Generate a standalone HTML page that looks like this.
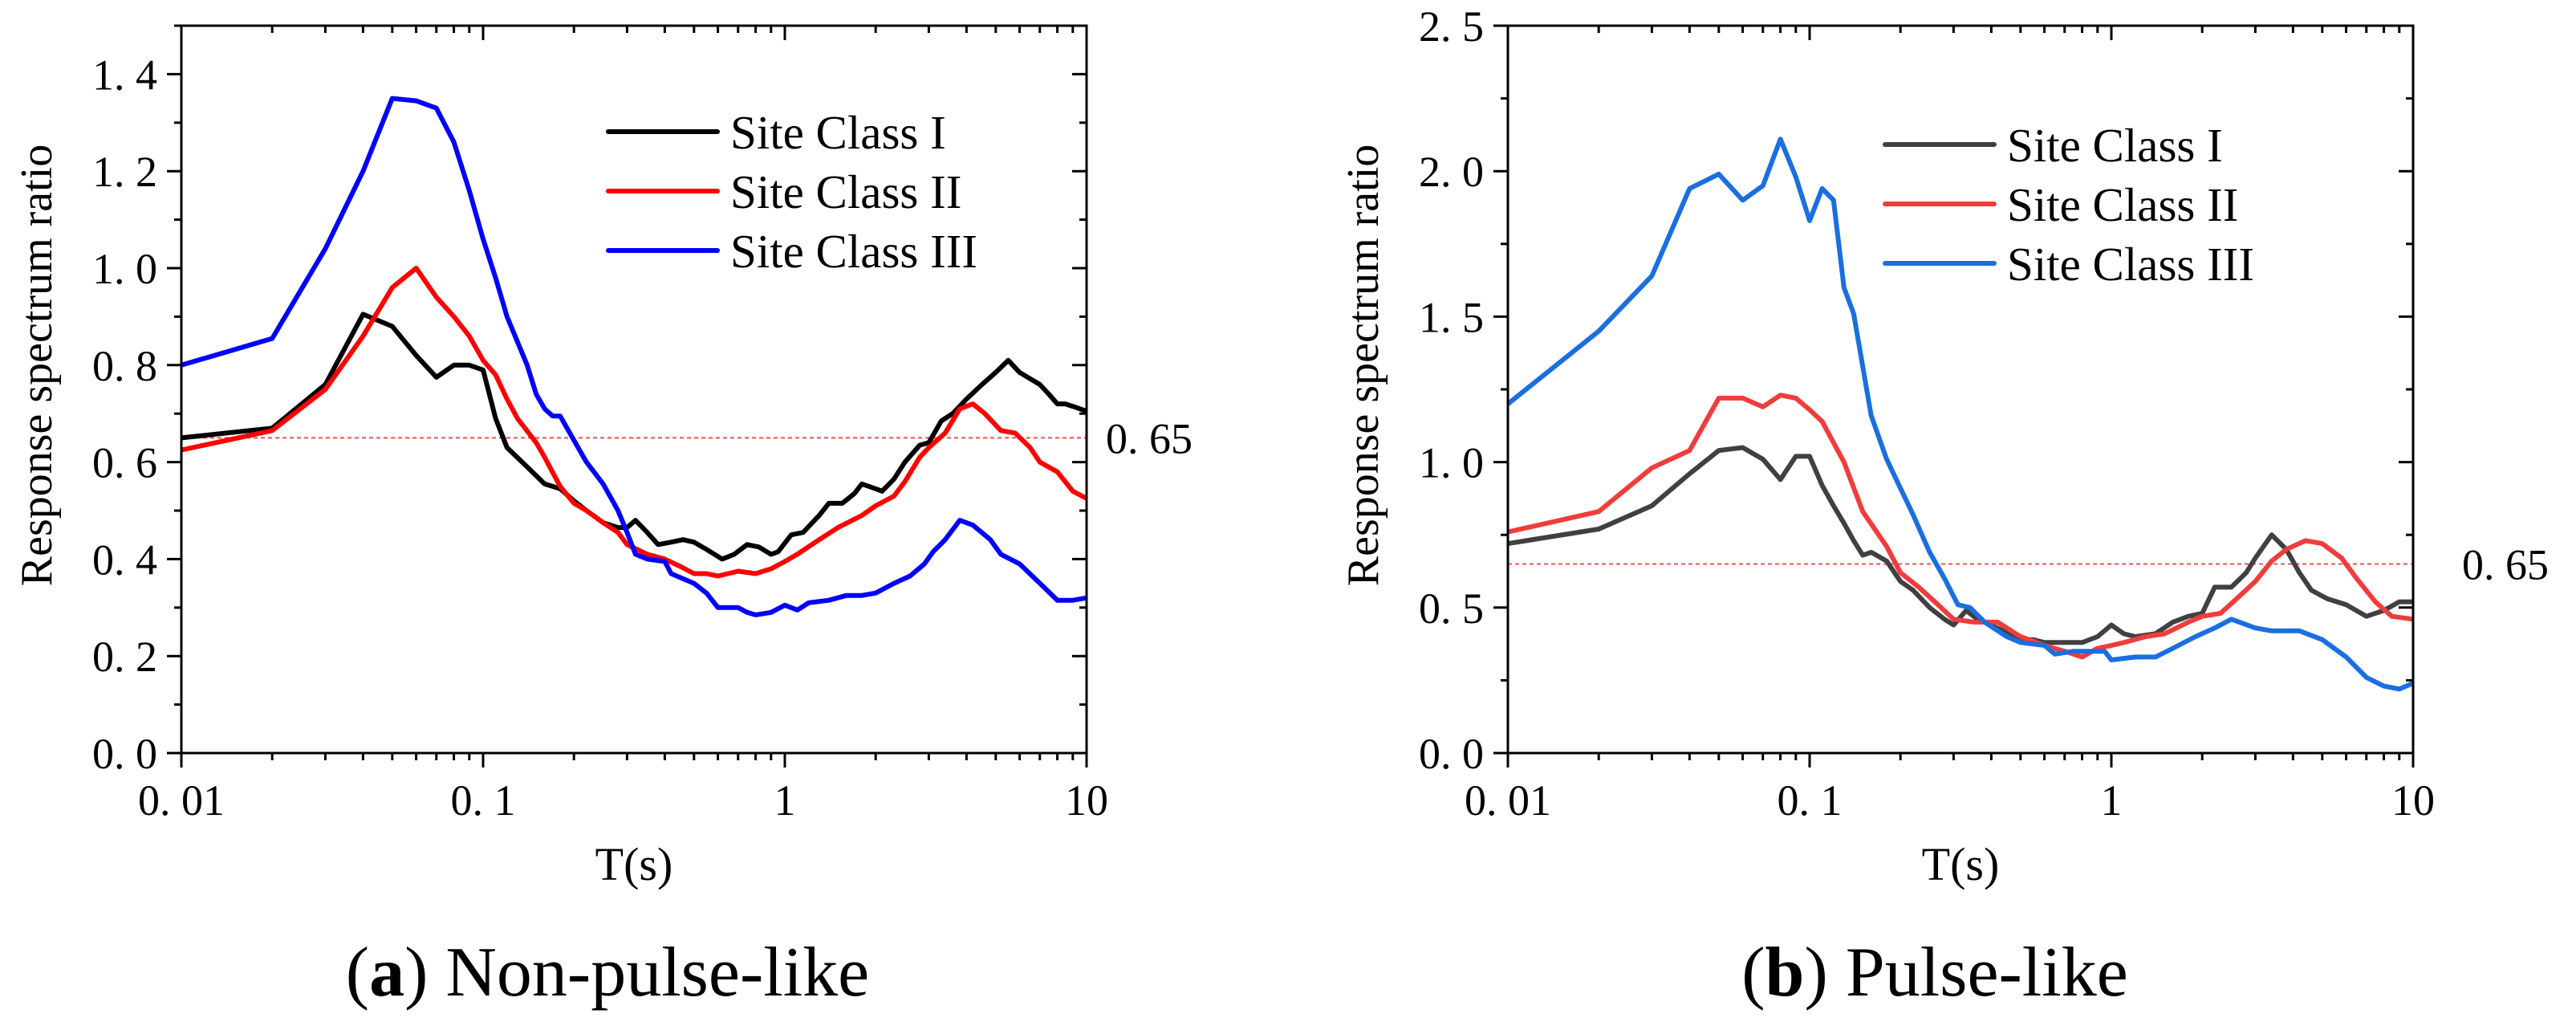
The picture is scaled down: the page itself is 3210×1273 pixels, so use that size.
<!DOCTYPE html>
<html><head><meta charset="utf-8"><style>
html,body{margin:0;padding:0;background:#fff;}
svg{display:block;}
text{font-family:"Liberation Serif",serif;fill:#000;}
</style></head>
<body>
<svg id="fig" width="3210" height="1273" viewBox="0 0 3210 1273" xmlns="http://www.w3.org/2000/svg"></svg>
<script>
// ---- Data: panel (a) Non-pulse-like ----
const aT1 = [0.01,0.02,0.03,0.04,0.05,0.06,0.07,0.08,0.09,0.1,0.11,0.12,0.14,0.16,0.18,0.2,0.22,0.25,0.28,0.3,0.32,0.35,0.38,0.42,0.46,0.5,0.55,0.62,0.68,0.75,0.82,0.9,0.95,1.05,1.15,1.3,1.4,1.55,1.7,1.8,2.0,2.1,2.3,2.5,2.8,3.0,3.3,3.6,4.0,4.5,5.0,5.5,6.0,7.0,7.5,8.0,8.5,9.0,10];
const aV1 = [0.65,0.67,0.76,0.905,0.88,0.82,0.775,0.80,0.80,0.79,0.69,0.63,0.59,0.555,0.545,0.52,0.50,0.475,0.465,0.465,0.48,0.455,0.43,0.435,0.44,0.435,0.42,0.40,0.41,0.43,0.425,0.41,0.415,0.45,0.455,0.49,0.515,0.515,0.535,0.555,0.545,0.54,0.565,0.60,0.635,0.64,0.685,0.70,0.73,0.76,0.785,0.81,0.785,0.76,0.74,0.72,0.72,0.715,0.705];
const aT2 = [0.01,0.02,0.03,0.04,0.05,0.06,0.07,0.08,0.09,0.1,0.11,0.12,0.13,0.15,0.16,0.18,0.2,0.22,0.25,0.28,0.3,0.35,0.4,0.45,0.5,0.55,0.6,0.7,0.8,0.9,1.0,1.1,1.3,1.5,1.8,2.0,2.3,2.5,2.8,3.0,3.4,3.8,4.2,4.6,5.2,5.8,6.5,7.0,8.0,9.0,10];
const aV2 = [0.625,0.665,0.75,0.86,0.96,1.0,0.94,0.90,0.86,0.81,0.78,0.73,0.69,0.64,0.61,0.55,0.515,0.50,0.475,0.455,0.43,0.41,0.40,0.385,0.37,0.37,0.365,0.375,0.37,0.38,0.395,0.41,0.44,0.465,0.49,0.51,0.53,0.56,0.61,0.63,0.66,0.71,0.72,0.70,0.665,0.66,0.63,0.60,0.58,0.54,0.525];
const aT3 = [0.01,0.02,0.03,0.04,0.05,0.06,0.07,0.08,0.09,0.1,0.11,0.12,0.14,0.15,0.16,0.17,0.18,0.2,0.22,0.25,0.28,0.3,0.32,0.35,0.4,0.42,0.5,0.55,0.6,0.7,0.75,0.8,0.9,1.0,1.1,1.2,1.4,1.6,1.8,2.0,2.3,2.6,2.9,3.1,3.4,3.8,4.2,4.8,5.2,6.0,7.0,8.0,9.0,10];
const aV3 = [0.80,0.855,1.04,1.20,1.35,1.345,1.33,1.26,1.16,1.06,0.98,0.90,0.80,0.74,0.71,0.695,0.695,0.645,0.60,0.555,0.50,0.455,0.41,0.40,0.395,0.37,0.35,0.33,0.30,0.30,0.29,0.285,0.29,0.305,0.295,0.31,0.315,0.325,0.325,0.33,0.35,0.365,0.39,0.415,0.44,0.48,0.47,0.44,0.41,0.39,0.35,0.315,0.315,0.32];
// ---- Data: panel (b) Pulse-like ----
const bT1 = [0.01,0.02,0.03,0.04,0.05,0.06,0.07,0.08,0.09,0.1,0.11,0.12,0.13,0.14,0.15,0.16,0.18,0.2,0.22,0.25,0.28,0.3,0.33,0.36,0.4,0.5,0.55,0.6,0.7,0.8,0.9,1.0,1.1,1.2,1.4,1.6,1.8,2.0,2.2,2.5,2.8,3.0,3.4,3.8,4.2,4.6,5.2,6.0,7.0,8.0,9.0,10];
const bV1 = [0.72,0.77,0.85,0.96,1.04,1.05,1.01,0.94,1.02,1.02,0.92,0.85,0.79,0.73,0.68,0.69,0.66,0.59,0.56,0.50,0.46,0.44,0.49,0.46,0.44,0.39,0.39,0.38,0.38,0.38,0.40,0.44,0.41,0.40,0.41,0.45,0.47,0.48,0.57,0.57,0.62,0.67,0.75,0.70,0.62,0.56,0.53,0.51,0.47,0.49,0.52,0.52];
const bT2 = [0.01,0.02,0.03,0.04,0.05,0.06,0.07,0.08,0.09,0.1,0.11,0.13,0.15,0.18,0.2,0.23,0.26,0.3,0.35,0.42,0.5,0.6,0.7,0.8,0.9,1.0,1.1,1.3,1.5,1.8,2.0,2.3,2.6,3.0,3.4,3.8,4.4,5.0,5.8,6.5,7.5,8.5,10];
const bV2 = [0.76,0.83,0.98,1.04,1.22,1.22,1.19,1.23,1.22,1.18,1.14,1.0,0.83,0.71,0.62,0.57,0.52,0.46,0.45,0.45,0.40,0.37,0.35,0.33,0.36,0.37,0.38,0.40,0.41,0.45,0.47,0.48,0.53,0.59,0.66,0.70,0.73,0.72,0.67,0.60,0.52,0.47,0.46];
const bT3 = [0.01,0.02,0.03,0.04,0.05,0.06,0.07,0.08,0.09,0.1,0.11,0.12,0.13,0.14,0.16,0.18,0.2,0.22,0.25,0.28,0.31,0.34,0.38,0.45,0.5,0.6,0.65,0.75,0.85,0.95,1.0,1.2,1.4,1.6,1.9,2.2,2.5,3.0,3.4,3.8,4.2,5.0,6.0,7.0,8.0,9.0,10];
const bV3 = [1.20,1.45,1.64,1.94,1.99,1.90,1.95,2.11,1.98,1.83,1.94,1.90,1.60,1.51,1.16,1.01,0.91,0.82,0.69,0.60,0.51,0.50,0.45,0.40,0.38,0.37,0.34,0.35,0.35,0.35,0.32,0.33,0.33,0.36,0.40,0.43,0.46,0.43,0.42,0.42,0.42,0.39,0.33,0.26,0.23,0.22,0.24];
const seriesNames = ["Site Class I","Site Class II","Site Class III"];
const xTickVals = [0.01,0.1,1,10];
const xTickLabels = ["0. 01","0. 1","1","10"];
const aYTicks = [0,0.2,0.4,0.6,0.8,1.0,1.2,1.4];
const aYLabels = ["0. 0","0. 2","0. 4","0. 6","0. 8","1. 0","1. 2","1. 4"];
const bYTicks = [0,0.5,1.0,1.5,2.0,2.5];
const bYLabels = ["0. 0","0. 5","1. 0","1. 5","2. 0","2. 5"];
const refValue = 0.65;

const NS = "http://www.w3.org/2000/svg";
const svg = document.getElementById('fig');
function mk(tag, attrs, parent, txt){
  const e = document.createElementNS(NS, tag);
  for (const k in attrs) e.setAttribute(k, attrs[k]);
  if (txt !== undefined) e.textContent = txt;
  (parent||svg).appendChild(e);
  return e;
}

function panel(cfg){
  const g = mk('g', {});
  
  
  const L=cfg.L, R=cfg.R, T=32, B=938;
  const xs = v => L + (Math.log10(v) + 2) / 3 * (R - L);
  const ys = v => B - v / cfg.ymax * (B - T);
  const ref = mk('line', {x1:L, x2:R, y1:ys(refValue), y2:ys(refValue), stroke:'#f05050', 'stroke-width':2, 'stroke-dasharray':'5,4'}, g);
  
  
  const rl = mk('text', {x:cfg.refX, y:ys(refValue)+19, 'font-size':54}, g, "0. 65");
  
  
  cfg.series.forEach((s, i) => {
    const d = s.t.map((t, j) => (j ? 'L' : 'M') + xs(t).toFixed(1) + ',' + ys(s.v[j]).toFixed(1)).join(' ');
    const p = mk('path', {d:d, fill:'none', stroke:cfg.colors[i], 'stroke-width':6, 'stroke-linejoin':'round'}, g);
    
    
  });
  const fr = mk('rect', {x:L, y:T, width:R-L, height:B-T, fill:'none', stroke:'#000', 'stroke-width':3}, g);
  
  
  for (let dec = -2; dec < 1; dec++) {
    for (let m = 1; m <= 9; m++) {
      const v = m * Math.pow(10, dec);
      const x = xs(v), len = m === 1 ? 18 : 9;
      mk('line', {x1:x, x2:x, y1:B, y2:B+len, stroke:'#000', 'stroke-width':3}, g);
      mk('line', {x1:x, x2:x, y1:T, y2:T+len, stroke:'#000', 'stroke-width':3}, g);
    }
  }
  mk('line', {x1:R, x2:R, y1:B, y2:B+18, stroke:'#000', 'stroke-width':3}, g);
  mk('line', {x1:R, x2:R, y1:T, y2:T+18, stroke:'#000', 'stroke-width':3}, g);
  xTickVals.forEach((v, i) => {
    const t = mk('text', {x:xs(v), y:1015, 'font-size':54, 'text-anchor':'middle'}, g, xTickLabels[i]);
    
    
  });
  for (let v = 0; v <= cfg.ymax + 1e-9; v += cfg.minor) {
    const y = ys(v);
    const major = Math.abs(v / cfg.major - Math.round(v / cfg.major)) < 1e-6;
    const len = major ? 18 : 9;
    mk('line', {x1:L-len, x2:L, y1:y, y2:y, stroke:'#000', 'stroke-width':3}, g);
    mk('line', {x1:R-len, x2:R, y1:y, y2:y, stroke:'#000', 'stroke-width':3}, g);
  }
  cfg.yTicks.forEach((v, i) => {
    const t = mk('text', {x:cfg.yLabelX, y:ys(v)+19, 'font-size':54, 'text-anchor':'end'}, g, cfg.yLabels[i]);
    
    
  });
  const xt = mk('text', {x:(L+R)/2, y:1096, 'font-size':58, 'text-anchor':'middle'}, g, "T(s)");
  
  
  const yt = mk('text', {x:0, y:0, 'font-size':56, 'text-anchor':'middle', transform:'translate(' + cfg.yTitleX + ',455) rotate(-90)'}, g, "Response spectrum ratio");
  
  
  cfg.series.forEach((s, i) => {
    const ly = cfg.legY + i * 74;
    const lg = mk('g', {}, g);
    
    
    mk('line', {x1:cfg.legX, x2:cfg.legX+136, y1:ly, y2:ly, stroke:cfg.colors[i], 'stroke-width':6, 'stroke-linecap':'round'}, lg);
    mk('text', {x:cfg.legX+152, y:ly+21, 'font-size':59}, lg, seriesNames[i]);
  });
  const cap = mk('text', {x:cfg.capX, y:1240, 'font-size':88, 'text-anchor':'middle'}, g);
  
  
  mk('tspan', {}, cap, "(");
  mk('tspan', {'font-weight':'bold'}, cap, cfg.letter);
  mk('tspan', {}, cap, ") " + cfg.caption);
}

panel({id:'non-pulse', L:226, R:1354, ymax:1.5, major:0.2, minor:0.1, yTicks:aYTicks, yLabels:aYLabels,
  yLabelX:196, yTitleX:64, refX:1378, legX:758, legY:164, capX:757, letter:'a', caption:'Non-pulse-like',
  colors:['#000000','#ff0000','#0000ff'],
  series:[{t:aT1,v:aV1},{t:aT2,v:aV2},{t:aT3,v:aV3}]});
panel({id:'pulse', L:1879, R:3007, ymax:2.5, major:0.5, minor:0.25, yTicks:bYTicks, yLabels:bYLabels,
  yLabelX:1849, yTitleX:1717, refX:3068, legX:2349, legY:180, capX:2411, letter:'b', caption:'Pulse-like',
  colors:['#404040','#f03c3c','#1a6fe0'],
  series:[{t:bT1,v:bV1},{t:bT2,v:bV2},{t:bT3,v:bV3}]});
</script>
</body></html>
